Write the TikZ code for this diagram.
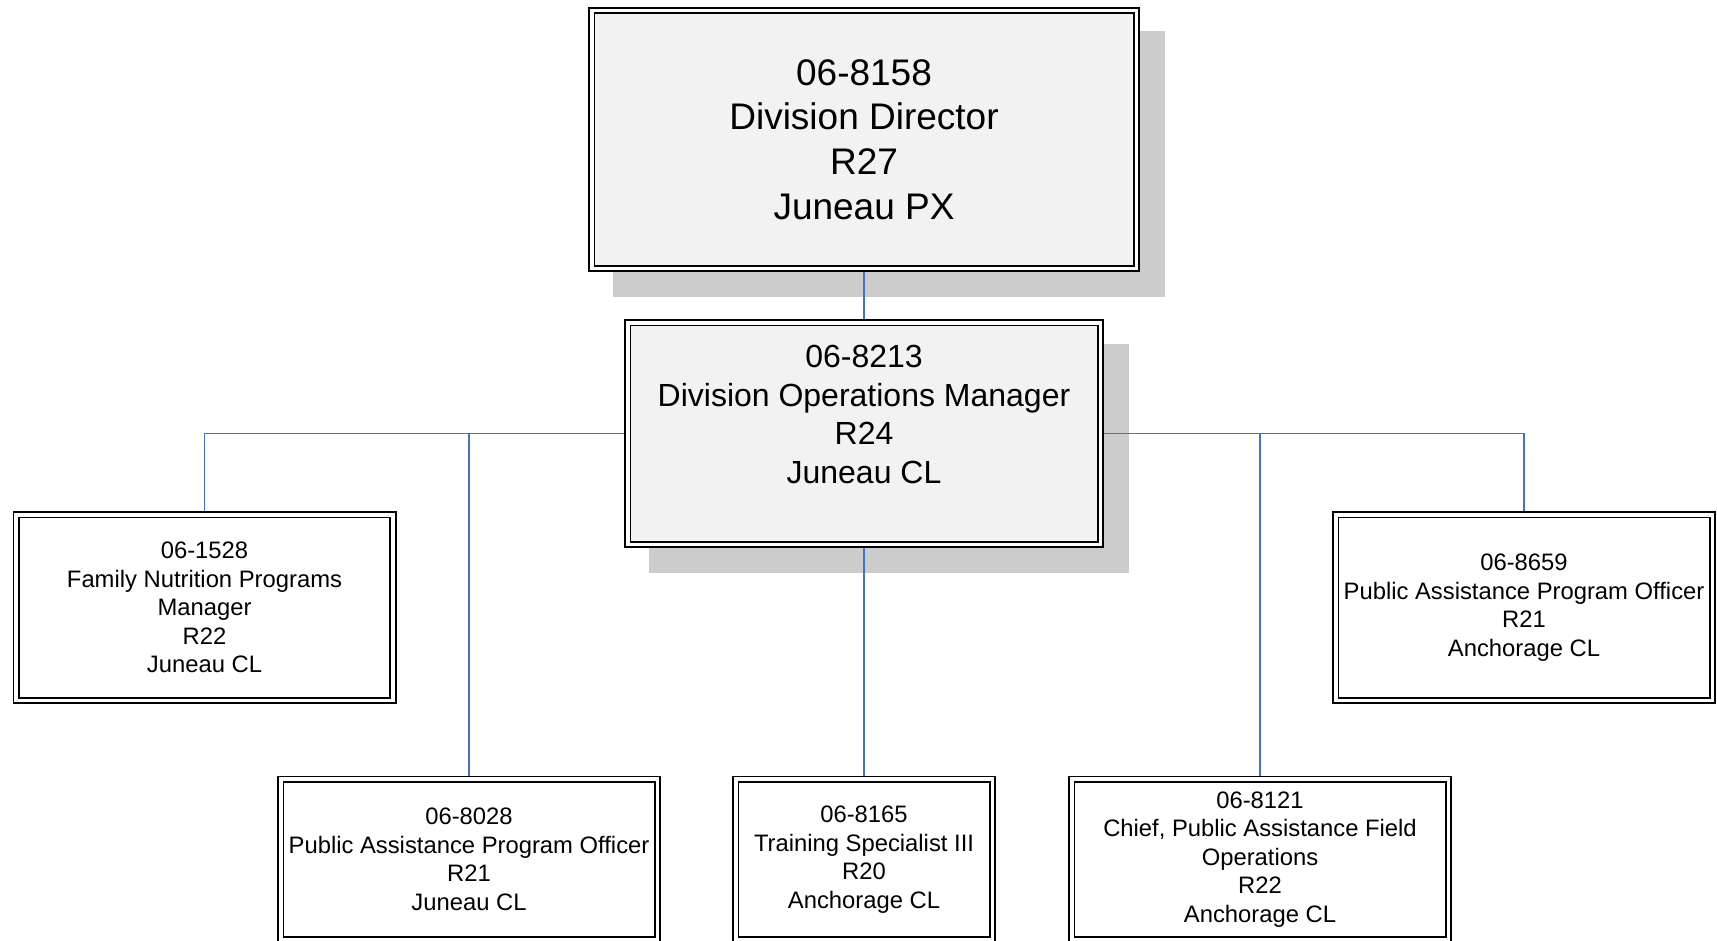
\documentclass[tikz,border=0pt]{standalone}
\usepackage{fontspec}
\setmainfont{Liberation Sans}
\usetikzlibrary{calc,backgrounds}
\definecolor{boxgray}{HTML}{F2F2F2}
\definecolor{shadowgray}{HTML}{CCCCCC}
\definecolor{linkblue}{HTML}{4472C4}
\tikzset{
  posnode/.style = {rectangle, draw=black, line width=0.85pt, double=white, double distance=1.9pt, align=center, inner sep=0pt, outer sep=0pt},
  pos_big/.style = {posnode, fill=boxgray, minimum width=272.4pt, minimum height=128.9pt, font=\fontsize{18.5}{22.3}\selectfont},
  pos_mid/.style = {posnode, fill=boxgray, minimum width=236.4pt, minimum height=110.9pt, font=\fontsize{16}{19.2}\selectfont},
  pos_small/.style = {posnode, fill=white, minimum width=188.4pt, minimum height=92.9pt, font=\fontsize{11.9}{14.25}\selectfont},
  link/.style = {draw=linkblue, line width=0.9pt}
}
\newcommand{\boxshadow}[1]{\fill[shadowgray] ($(#1.south west)+(10.45pt,-14.05pt)$) rectangle ($(#1.north east)+(14.05pt,-10.45pt)$);}

\begin{document}
\begin{tikzpicture}[x=0.5pt,y=-0.5pt]
	\useasboundingbox (0,0) rectangle (1717,941);
	\tikzstyle{pos_low}=[pos_small, minimum height=80.4pt]
	% director and operations manager
	\node[pos_big] (director) at (864,139.5) {06-8158\\Division Director\\R27\\Juneau PX};
	\node[pos_mid] (opsmgr) at (864,433.5) {06-8213\\Division Operations Manager\\R24\\Juneau CL\\\mbox{}};
	% staff
	\node[pos_small] (fnp) at (204.5,607.5) {06-1528\\Family Nutrition Programs\\Manager\\R22\\Juneau CL};
	\node[pos_small] (pa_anch) at (1524,607.5) {06-8659\\Public Assistance Program Officer\\R21\\Anchorage CL};
	\node[pos_low] (pa_juneau) at (469,859.5) {06-8028\\Public Assistance Program Officer\\R21\\Juneau CL};
	\node[pos_low, minimum width=128.4pt] (trainer) at (864,859.5) {06-8165\\Training Specialist III\\R20\\Anchorage CL};
	\node[pos_low] (chief) at (1260,859.5) {06-8121\\Chief, Public Assistance Field\\Operations\\R22\\Anchorage CL};
	\begin{scope}[on background layer]
		\boxshadow{director}
		\boxshadow{opsmgr}
		\draw[link] (director.south) -- (opsmgr.north);
		\draw[link] (opsmgr.west) -| (fnp.north);
		\draw[link] (opsmgr.west) -| (pa_juneau.north);
		\draw[link] (opsmgr.south) -- (trainer.north);
		\draw[link] (opsmgr.east) -| (chief.north);
		\draw[link] (opsmgr.east) -| (pa_anch.north);
	\end{scope}
\end{tikzpicture}
\end{document}
